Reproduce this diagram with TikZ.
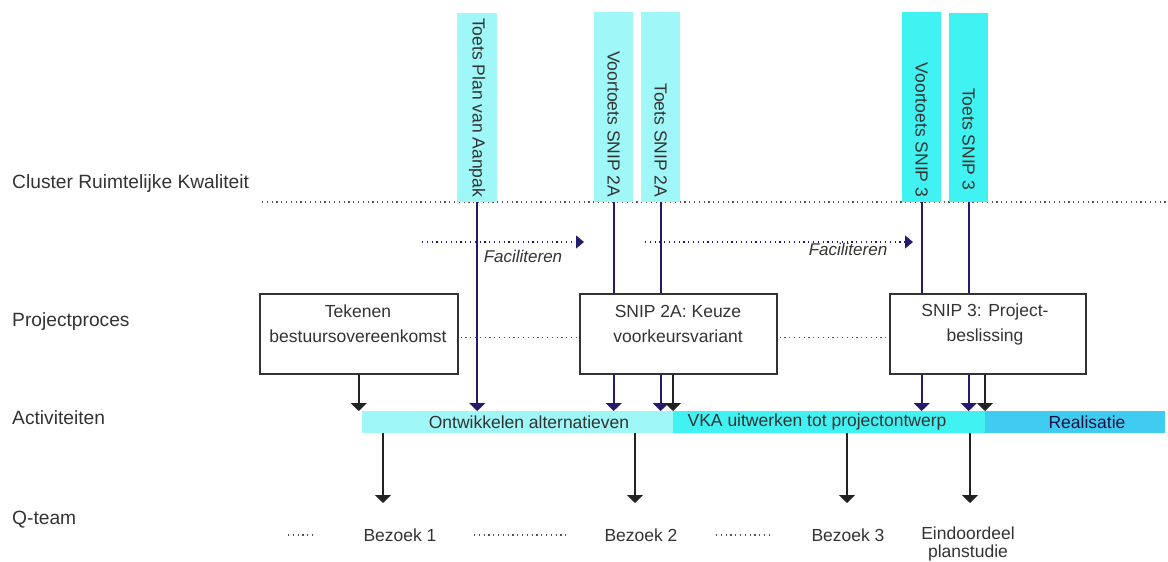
\documentclass[tikz,border=0pt]{standalone}
\usepackage{fontspec}
\setmainfont{Liberation Sans}
\usetikzlibrary{arrows.meta,calc}
\definecolor{txt}{HTML}{333333}
\definecolor{lcyan}{HTML}{A0F7F7}
\definecolor{mcyan}{HTML}{40F2F2}
\definecolor{rcyan}{HTML}{40CCF0}
\definecolor{navy}{HTML}{231C6C}
\definecolor{blk}{HTML}{222222}
\definecolor{boxc}{HTML}{333333}
\definecolor{dotc}{HTML}{555555}
\begin{document}
\begin{tikzpicture}[x=1pt,y=-1pt,
  lbl/.style={font=\fontsize{17.5}{21}\selectfont, text=txt, inner sep=0pt},
  rowlbl/.style={lbl, anchor=west, font=\fontsize{19.2}{23}\selectfont},
  bar/.style={anchor=north west, minimum width=40pt, minimum height=190pt, inner sep=0pt, draw=none},
  vtext/.style={rotate=-90, anchor=east, font=\fontsize{17.5}{21}\selectfont, text=txt, inner sep=0pt},
  procbox/.style={draw=boxc, line width=1.5pt, anchor=north west, minimum height=80pt, inner sep=0pt},
  boxtext/.style={lbl, align=center, font=\fontsize{17.5}{25}\selectfont},
  actbar/.style={anchor=north west, minimum height=22pt, inner sep=0pt, draw=none},
  dots/.style={draw=dotc, line width=1.2pt, dash pattern=on 1.2pt off 3.6pt},
  navyline/.style={draw=navy, line width=1.7pt},
  navyarr/.style={navyline, -{Triangle[width=16pt,length=8pt]}},
  blackarr/.style={draw=blk, line width=1.7pt, -{Triangle[width=16pt,length=8pt]}},
  facarr/.style={draw=navy, line width=1.2pt, dash pattern=on 1.2pt off 3.6pt, -{Triangle[width=13pt,length=8pt]}},
  facl/.style={lbl, font=\fontsize{17}{20}\selectfont\itshape}
]
\useasboundingbox (0,0) rectangle (1168,562);

% row labels
\node[rowlbl] (l1) at (12,184) {Cluster Ruimtelijke Kwaliteit};
\node[rowlbl] (l2) at (12,322) {Projectproces};
\node[rowlbl] (l3) at (12,418) {Activiteiten};
\node[rowlbl] (l4) at (12,520) {Q-team};

% cluster dotted line
\coordinate (cl1) at (262,202);
\coordinate (cl2) at (1168,202);
\draw[dots] (cl1) -- (cl2);

% top bars
\node[bar, fill=lcyan, minimum width=40pt, minimum height=189pt] (b1) at (457,13) {};
\node[bar, fill=lcyan, minimum width=39pt] (b2) at (594,12) {};
\node[bar, fill=lcyan, minimum width=39pt] (b3) at (641,12) {};
\node[bar, fill=mcyan, minimum width=39pt] (b4) at (902,12) {};
\node[bar, fill=mcyan, minimum width=39pt, minimum height=189pt] (b5) at (949,13) {};
\node[vtext] (b1t) at ($(b1.south)+(0,-5)$) {Toets Plan van Aanpak};
\node[vtext] (b2t) at ($(b2.south)+(0,-5)$) {Voortoets SNIP 2A};
\node[vtext] (b3t) at ($(b3.south)+(0,-5)$) {Toets SNIP 2A};
\node[vtext] (b4t) at ($(b4.south)+(0,-5)$) {Voortoets SNIP 3};
\node[vtext] (b5t) at ($(b5.south)+(0,-12)$) {Toets SNIP 3};

% process boxes
\node[procbox, minimum width=198pt] (tk) at (259,293) {};
\node[procbox, minimum width=197pt] (s2) at (579,293) {};
\node[procbox, minimum width=196pt] (s3) at (889,293) {};
\node[boxtext] (tkt) at (358,324) {Tekenen\\bestuursovereenkomst};
\node[boxtext] (s2t) at (678,324) {SNIP 2A: Keuze\\voorkeursvariant};
\node[boxtext] (s3t) at (985,324) {SNIP 3: Project-\\beslissing};
\draw[dots] ($(tk.east)+(2,4)$) -- ($(s2.west)+(-2,4)$);
\draw[dots] ($(s2.east)+(2,4)$) -- ($(s3.west)+(-2,4)$);

% faciliteren
\coordinate (f1a) at (422,242);
\coordinate (f1b) at (584,242);
\coordinate (f2a) at (645,242);
\coordinate (f2b) at (913,242);
\draw[facarr] (f1a) -- (f1b);
\draw[facarr] (f2a) -- (f2b);
\node[facl] (fl1) at (523,256) {Faciliteren};
\node[facl] (fl2) at (848,249) {Faciliteren};

% activities bar
\node[actbar, fill=lcyan, minimum width=311pt] (a1) at (362,411) {};
\node[actbar, fill=mcyan, minimum width=312pt] (a2) at (673,411) {};
\node[actbar, fill=rcyan, minimum width=180pt] (a3) at (985,411) {};
\node[lbl] (a1t) at (529,422) {Ontwikkelen alternatieven};
\node[lbl] (a2t) at (817,422) {VKA uitwerken tot projectontwerp};
\node[lbl, text=navy!60!black] (a3t) at (1087,422) {Realisatie};

% vertical connectors from top
\draw[navyarr] (b1.south) -- (b1.south |- a1.north);
\draw[navyline] (b2.south) -- (b2.south |- s2.north);
\draw[navyarr] (b2.south |- s2.south) -- (b2.south |- a1.north);
\draw[navyline] (b3.south) -- (b3.south |- s2.north);
\draw[navyarr] (b3.south |- s2.south) -- (b3.south |- a1.north);
\draw[navyline] (b4.south) -- (b4.south |- s3.north);
\draw[navyarr] (b4.south |- s3.south) -- (b4.south |- a2.north);
\draw[navyline] (b5.south) -- (b5.south |- s3.north);
\draw[navyarr] (b5.south |- s3.south) -- (b5.south |- a2.north);
\draw[blackarr] (tk.south) -- (tk.south |- a1.north);
\draw[blackarr] (a2.north west |- s2.south) -- (a2.north west);
\draw[blackarr] (a3.north west |- s3.south) -- (a3.north west);

% Q-team
\node[lbl] (q1) at (400,535) {Bezoek 1};
\node[lbl] (q2) at (641,535) {Bezoek 2};
\node[lbl] (q3) at (848,535) {Bezoek 3};
\node[lbl, align=center, anchor=north, font=\fontsize{17.5}{18}\selectfont] (q4) at (968,527) {Eindoordeel\\planstudie};
\coordinate (e1) at (383,503);
\coordinate (e2) at (635,503);
\coordinate (e3) at (847,503);
\coordinate (e4) at (970,503);
\draw[blackarr] (e1 |- a1.south) -- (e1);
\draw[blackarr] (e2 |- a1.south) -- (e2);
\draw[blackarr] (e3 |- a2.south) -- (e3);
\draw[blackarr] (e4 |- a2.south) -- (e4);
\coordinate (d1a) at (288,535); \coordinate (d1b) at (314,535);
\coordinate (d2a) at (474,535); \coordinate (d2b) at (566,535);
\coordinate (d3a) at (716,535); \coordinate (d3b) at (771,535);
\draw[dots] (d1a) -- (d1b);
\draw[dots] (d2a) -- (d2b);
\draw[dots] (d3a) -- (d3b);
\end{tikzpicture}
\end{document}
